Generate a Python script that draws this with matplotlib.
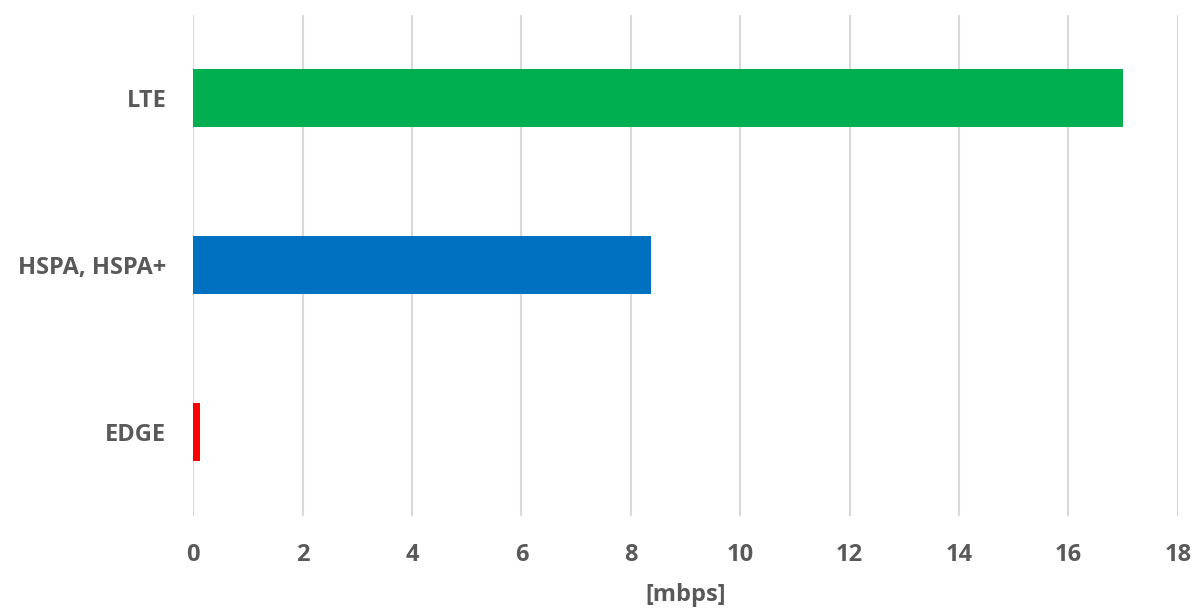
import matplotlib.pyplot as plt

# download speeds per network type
networks = ['EDGE', 'HSPA, HSPA+', 'LTE']
speeds = [0.12, 8.36, 17.0]
colors = ['#ff0000', '#0070c0', '#00b050']

plt.rcParams['font.family'] = ['Open Sans', 'DejaVu Sans']

fig = plt.figure(figsize=(11.95, 6.08), dpi=100)
ax = fig.add_axes([0.1618, 0.152, 0.8237, 0.824])

ax.barh(range(len(networks)), speeds, height=0.35, color=colors, zorder=3)

ax.set_xlim(0, 18)
ax.set_ylim(-0.5, 2.5)
ax.set_xticks(range(0, 19, 2))
ax.set_yticks(range(len(networks)))
ax.set_yticklabels(networks)

ax.grid(axis='x', color='#d9d9d9', linewidth=1.5, zorder=0)
for s in ax.spines.values():
    s.set_visible(False)
ax.tick_params(length=0, labelsize=17, labelcolor='#595959')
ax.tick_params(axis='y', pad=19.5)
ax.tick_params(axis='x', pad=20)
for lbl in ax.get_xticklabels() + ax.get_yticklabels():
    lbl.set_fontweight('bold')

ax.set_xlabel('[mbps]', fontsize=17, fontweight='bold', color='#595959', labelpad=11)

fig.savefig('out.png', dpi=100)
